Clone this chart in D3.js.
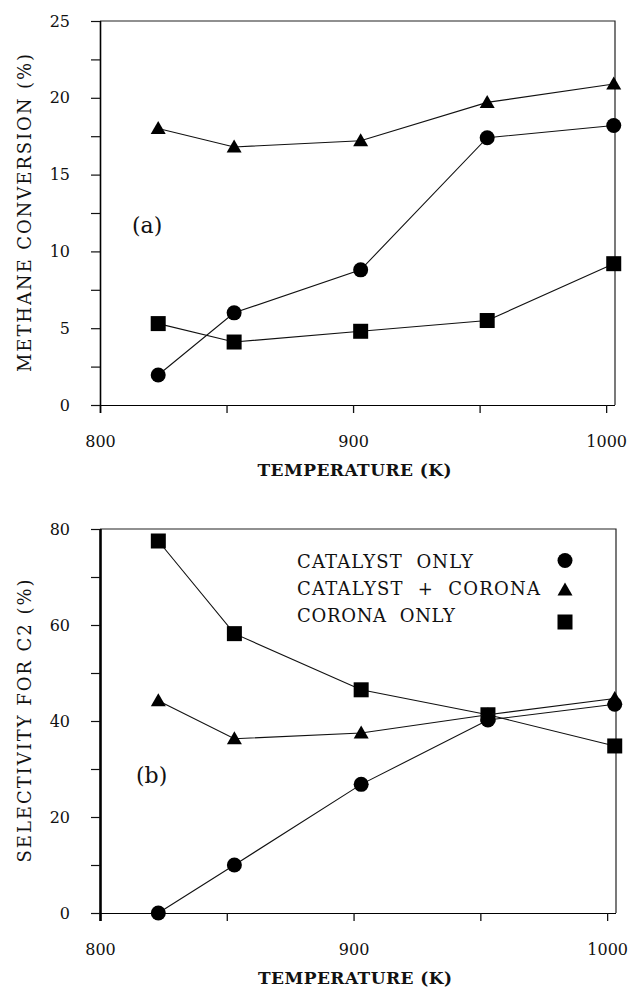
<!DOCTYPE html>
<html>
<head>
<meta charset="utf-8">
<script src="https://cdn.jsdelivr.net/npm/d3@7"></script>
<style>
  body { margin: 0; background: #fff; }
  svg text { font-family: "DejaVu Serif", "Liberation Serif", serif; fill: #111; white-space: pre; }
</style>
</head>
<body>
<div id="chart-container"></div>
<script>
// data
const temps = [823, 853, 903, 953, 1003];
const xTicks = [800, 850, 900, 950, 1000];
const xLabels = [800, 900, 1000];

const convCatalyst = [1.95, 6.0, 8.8, 17.4, 18.2];
const convBoth = [18.0, 16.8, 17.2, 19.7, 20.9];
const convCorona = [5.3, 4.1, 4.8, 5.5, 9.2];
const convTicks = [0, 2.5, 5, 7.5, 10, 12.5, 15, 17.5, 20, 22.5, 25];
const convLabels = [0, 5, 10, 15, 20, 25];

const selCatalyst = [0, 10.0, 26.8, 40.2, 43.5];
const selBoth = [44.2, 36.3, 37.5, 41.3, 44.7];
const selCorona = [77.5, 58.2, 46.5, 41.3, 34.8];
const selTicks = [0, 10, 20, 30, 40, 50, 60, 70, 80];
const selLabels = [0, 20, 40, 60, 80];

const legendNames = ["CATALYST  ONLY", "CATALYST  +  CORONA", "CORONA  ONLY"];
const legendSymbols = ["circle", "triangle", "square"];

const W = 631, H = 989;

const svg = d3.select("#chart-container")
  .append("svg")
  .attr("width", W)
  .attr("height", H);

// symbol drawing
function drawMarker(g, type, cx, cy) {
  if (type === "circle") {
    g.append("circle").attr("cx", cx).attr("cy", cy).attr("r", 7.5).attr("fill", "#000");
  } else if (type === "square") {
    g.append("rect").attr("x", cx - 7.5).attr("y", cy - 7.5)
      .attr("width", 15).attr("height", 15).attr("fill", "#000");
  } else {
    g.append("path")
      .attr("d", `M${cx},${cy - 7.5}L${cx + 7.5},${cy + 5.5}L${cx - 7.5},${cy + 5.5}Z`)
      .attr("fill", "#000");
  }
}

function panel(opts) {
  const x = d3.scaleLinear().domain([800, 1003.5]).range([opts.left, opts.right]);
  const y = d3.scaleLinear().domain([0, opts.ymax]).range([opts.bottom, opts.top]);
  const g = svg.append("g");

  // top and right frame
  g.append("path")
    .attr("d", `M${opts.left},${opts.top}H${opts.right}V${opts.bottom}`)
    .attr("fill", "none").attr("stroke", "#222").attr("stroke-width", 1.2);

  // x axis
  g.append("g")
    .attr("transform", `translate(0,${opts.bottom})`)
    .call(d3.axisBottom(x)
      .tickValues(xTicks)
      .tickSize(8)
      .tickPadding(23)
      .tickFormat(d => xLabels.includes(d) ? d : ""))
    .call(a => a.select(".domain").attr("d", `M${opts.left - 9},0.5H${opts.right}`))
    .call(a => a.selectAll("line").attr("stroke", "#111").attr("stroke-width", 1.3))
    .call(a => a.selectAll("text").style("font-size", "16px").style("font-family", "DejaVu Serif"));

  // y axis
  g.append("g")
    .attr("transform", `translate(${opts.left},0)`)
    .call(d3.axisLeft(y)
      .tickValues(opts.yTicks)
      .tickSize(9)
      .tickPadding(21)
      .tickFormat(d => opts.yLabels.includes(d) ? d : ""))
    .call(a => a.select(".domain").attr("d", `M0.5,${opts.top}V${opts.bottom + 8}`)
      .attr("stroke-width", opts.axisWidth))
    .call(a => a.selectAll("line").attr("stroke", "#111").attr("stroke-width", 1.2))
    .call(a => a.selectAll("text").style("font-size", "16px").style("font-family", "DejaVu Serif"));

  // axis titles
  g.append("text")
    .attr("x", (opts.left + opts.right) / 2 - 3)
    .attr("y", opts.bottom + 71)
    .attr("text-anchor", "middle")
    .attr("textLength", 194)
    .attr("lengthAdjust", "spacing")
    .style("font-size", "17px")
    .style("font-weight", 600)
    .text("TEMPERATURE (K)");

  g.append("text")
    .attr("transform", `translate(31,${(opts.top + opts.bottom) / 2}) rotate(-90)`)
    .attr("text-anchor", "middle")
    .attr("textLength", opts.titleLen)
    .attr("lengthAdjust", "spacing")
    .style("font-size", "18px")
    .text(opts.ytitle);

  // panel tag
  g.append("text")
    .attr("x", opts.tagX).attr("y", opts.tagY)
    .style("font-size", "22px")
    .text(opts.tag);

  // series lines and markers
  const line = d3.line().x(d => x(d[0])).y(d => y(d[1]));
  opts.series.forEach(s => {
    const pts = temps.map((t, i) => [t, s.values[i]]);
    g.append("path").datum(pts)
      .attr("d", line)
      .attr("fill", "none").attr("stroke", "#111").attr("stroke-width", 1.1);
    pts.forEach(p => drawMarker(g, s.symbol, x(p[0]), y(p[1])));
  });
  return g;
}

panel({
  left: 100, right: 615, top: 21, bottom: 405, ymax: 25,
  yTicks: convTicks, yLabels: convLabels, axisWidth: 1.6,
  ytitle: "METHANE CONVERSION (%)", titleLen: 318,
  tag: "(a)", tagX: 132, tagY: 233,
  series: [
    {values: convBoth, symbol: "triangle"},
    {values: convCatalyst, symbol: "circle"},
    {values: convCorona, symbol: "square"}
  ]
});

const pb = panel({
  left: 100, right: 616, top: 529, bottom: 913, ymax: 80,
  yTicks: selTicks, yLabels: selLabels, axisWidth: 2.6,
  ytitle: "SELECTIVITY FOR C2 (%)", titleLen: 283,
  tag: "(b)", tagX: 136, tagY: 783,
  series: [
    {values: selCorona, symbol: "square"},
    {values: selBoth, symbol: "triangle"},
    {values: selCatalyst, symbol: "circle"}
  ]
});

// legend in panel (b)
const legendBase = [568, 595, 621.5];
const legendMarkY = [560.5, 590, 622];
const legendLen = [176, 243, 158];
legendNames.forEach((name, i) => {
  pb.append("text")
    .attr("x", 297).attr("y", legendBase[i])
    .attr("textLength", legendLen[i])
    .attr("lengthAdjust", "spacing")
    .style("font-size", "18px")
    .text(name);
  drawMarker(pb, legendSymbols[i], 565, legendMarkY[i]);
});
</script>
</body>
</html>
